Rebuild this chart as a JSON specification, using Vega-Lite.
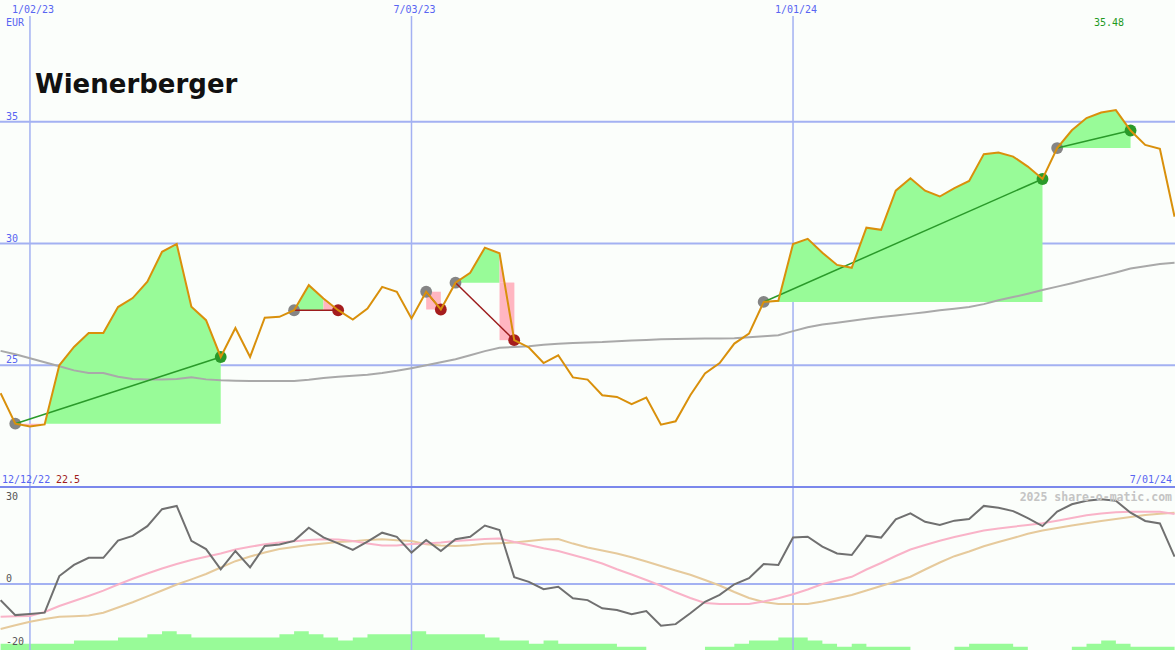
{
  "$schema": "https://vega.github.io/schema/vega-lite/v6.json",
  "background": "#fbfefb",
  "padding": 0,
  "autosize": {"type": "none"},
  "width": 1175,
  "height": 650,
  "config": {"view": {"stroke": null}},
  "datasets": {
    "vlines": [{"d": "2023/01/02"}, {"d": "2023/07/03"}, {"d": "2024/01/01"}],
    "ylev": [{"v": 25}, {"v": 30}, {"v": 35}],
    "olev": [{"v": 30, "t": "30"}, {"v": 0, "t": "0"}, {"v": -20, "t": "-20"}],
    "weeks": [
      {"d": "2022/12/19", "p": 23.85, "ma": 25.59, "o": -5.9, "s1": -11.98, "s2": -16.48, "v": 2},
      {"d": "2022/12/26", "p": 22.60, "ma": 25.45, "o": -11.4, "s1": -11.83, "s2": -15.13, "v": 2},
      {"d": "2023/01/02", "p": 22.49, "ma": 25.29, "o": -11.0, "s1": -11.72, "s2": -13.81, "v": 2},
      {"d": "2023/01/09", "p": 22.57, "ma": 25.12, "o": -10.5, "s1": -10.26, "s2": -12.82, "v": 2},
      {"d": "2023/01/16", "p": 25.00, "ma": 24.96, "o": 2.9, "s1": -8.06, "s2": -11.98, "v": 2},
      {"d": "2023/01/23", "p": 25.75, "ma": 24.79, "o": 7.0, "s1": -6.23, "s2": -11.79, "v": 3},
      {"d": "2023/01/30", "p": 26.32, "ma": 24.68, "o": 9.6, "s1": -4.40, "s2": -11.58, "v": 3},
      {"d": "2023/02/06", "p": 26.32, "ma": 24.68, "o": 9.6, "s1": -2.45, "s2": -10.51, "v": 3},
      {"d": "2023/02/13", "p": 27.39, "ma": 24.53, "o": 15.9, "s1": -0.18, "s2": -8.61, "v": 4},
      {"d": "2023/02/20", "p": 27.76, "ma": 24.44, "o": 17.6, "s1": 1.90, "s2": -6.67, "v": 4},
      {"d": "2023/02/27", "p": 28.43, "ma": 24.41, "o": 21.2, "s1": 3.85, "s2": -4.51, "v": 5},
      {"d": "2023/03/06", "p": 29.66, "ma": 24.41, "o": 27.4, "s1": 5.68, "s2": -2.38, "v": 6},
      {"d": "2023/03/13", "p": 29.98, "ma": 24.44, "o": 28.6, "s1": 7.33, "s2": -0.18, "v": 5},
      {"d": "2023/03/20", "p": 27.40, "ma": 24.51, "o": 15.8, "s1": 8.79, "s2": 1.68, "v": 4},
      {"d": "2023/03/27", "p": 26.85, "ma": 24.42, "o": 12.8, "s1": 9.96, "s2": 3.66, "v": 4},
      {"d": "2023/04/03", "p": 25.34, "ma": 24.38, "o": 5.4, "s1": 11.17, "s2": 6.04, "v": 4},
      {"d": "2023/04/10", "p": 26.53, "ma": 24.36, "o": 12.1, "s1": 12.64, "s2": 8.35, "v": 4},
      {"d": "2023/04/17", "p": 25.34, "ma": 24.35, "o": 6.1, "s1": 13.63, "s2": 10.07, "v": 4},
      {"d": "2023/04/24", "p": 26.95, "ma": 24.35, "o": 13.9, "s1": 14.54, "s2": 11.54, "v": 4},
      {"d": "2023/05/01", "p": 26.99, "ma": 24.35, "o": 14.5, "s1": 15.20, "s2": 12.82, "v": 5},
      {"d": "2023/05/08", "p": 27.26, "ma": 24.35, "o": 15.8, "s1": 15.68, "s2": 13.55, "v": 6},
      {"d": "2023/05/15", "p": 28.29, "ma": 24.40, "o": 20.6, "s1": 16.12, "s2": 14.29, "v": 5},
      {"d": "2023/05/22", "p": 27.74, "ma": 24.48, "o": 17.1, "s1": 16.41, "s2": 14.87, "v": 4},
      {"d": "2023/05/29", "p": 27.26, "ma": 24.53, "o": 14.9, "s1": 16.30, "s2": 15.38, "v": 3},
      {"d": "2023/06/05", "p": 26.88, "ma": 24.57, "o": 12.5, "s1": 15.75, "s2": 15.68, "v": 4},
      {"d": "2023/06/12", "p": 27.33, "ma": 24.61, "o": 15.5, "s1": 14.84, "s2": 16.12, "v": 5},
      {"d": "2023/06/19", "p": 28.22, "ma": 24.68, "o": 18.8, "s1": 14.10, "s2": 16.41, "v": 5},
      {"d": "2023/06/26", "p": 28.02, "ma": 24.77, "o": 17.3, "s1": 14.10, "s2": 16.01, "v": 5},
      {"d": "2023/07/03", "p": 26.92, "ma": 24.88, "o": 11.5, "s1": 14.65, "s2": 15.75, "v": 6},
      {"d": "2023/07/10", "p": 28.02, "ma": 25.00, "o": 16.1, "s1": 14.87, "s2": 14.54, "v": 5},
      {"d": "2023/07/17", "p": 27.29, "ma": 25.12, "o": 12.1, "s1": 15.20, "s2": 14.10, "v": 5},
      {"d": "2023/07/24", "p": 28.39, "ma": 25.25, "o": 16.4, "s1": 15.75, "s2": 13.92, "v": 5},
      {"d": "2023/07/31", "p": 28.80, "ma": 25.41, "o": 17.3, "s1": 16.12, "s2": 14.21, "v": 5},
      {"d": "2023/08/07", "p": 29.83, "ma": 25.58, "o": 21.4, "s1": 16.48, "s2": 14.73, "v": 4},
      {"d": "2023/08/14", "p": 29.60, "ma": 25.72, "o": 19.8, "s1": 16.67, "s2": 14.95, "v": 3},
      {"d": "2023/08/21", "p": 26.03, "ma": 25.75, "o": 2.5, "s1": 15.38, "s2": 15.16, "v": 3},
      {"d": "2023/08/28", "p": 25.73, "ma": 25.78, "o": 0.8, "s1": 14.29, "s2": 15.75, "v": 2},
      {"d": "2023/09/04", "p": 25.09, "ma": 25.84, "o": -1.9, "s1": 13.11, "s2": 16.30, "v": 3},
      {"d": "2023/09/11", "p": 25.41, "ma": 25.88, "o": -1.0, "s1": 12.09, "s2": 16.48, "v": 2},
      {"d": "2023/09/18", "p": 24.50, "ma": 25.91, "o": -5.2, "s1": 10.62, "s2": 14.80, "v": 2},
      {"d": "2023/09/25", "p": 24.41, "ma": 25.93, "o": -5.9, "s1": 9.16, "s2": 13.37, "v": 2},
      {"d": "2023/10/02", "p": 23.77, "ma": 25.95, "o": -8.9, "s1": 7.51, "s2": 12.27, "v": 2},
      {"d": "2023/10/09", "p": 23.70, "ma": 25.99, "o": -9.5, "s1": 5.42, "s2": 11.17, "v": 1},
      {"d": "2023/10/16", "p": 23.40, "ma": 26.02, "o": -11.1, "s1": 3.48, "s2": 9.78, "v": 1},
      {"d": "2023/10/23", "p": 23.67, "ma": 26.04, "o": -9.9, "s1": 1.47, "s2": 8.24, "v": 0},
      {"d": "2023/10/30", "p": 22.56, "ma": 26.07, "o": -15.3, "s1": -0.66, "s2": 6.59, "v": 0},
      {"d": "2023/11/06", "p": 22.70, "ma": 26.08, "o": -14.7, "s1": -3.04, "s2": 4.95, "v": 0},
      {"d": "2023/11/13", "p": 23.77, "ma": 26.09, "o": -10.7, "s1": -5.13, "s2": 3.37, "v": 0},
      {"d": "2023/11/20", "p": 24.66, "ma": 26.10, "o": -6.5, "s1": -6.96, "s2": 1.47, "v": 1},
      {"d": "2023/11/27", "p": 25.09, "ma": 26.10, "o": -4.0, "s1": -7.33, "s2": -0.55, "v": 1},
      {"d": "2023/12/04", "p": 25.89, "ma": 26.11, "o": -0.1, "s1": -7.33, "s2": -2.93, "v": 2},
      {"d": "2023/12/11", "p": 26.30, "ma": 26.15, "o": 2.1, "s1": -7.33, "s2": -5.13, "v": 3},
      {"d": "2023/12/18", "p": 27.60, "ma": 26.19, "o": 7.3, "s1": -6.41, "s2": -6.59, "v": 3},
      {"d": "2023/12/25", "p": 27.65, "ma": 26.23, "o": 7.0, "s1": -5.24, "s2": -7.33, "v": 4},
      {"d": "2024/01/01", "p": 29.98, "ma": 26.40, "o": 17.0, "s1": -3.74, "s2": -7.33, "v": 4},
      {"d": "2024/01/08", "p": 30.19, "ma": 26.56, "o": 17.3, "s1": -2.01, "s2": -7.33, "v": 3},
      {"d": "2024/01/15", "p": 29.62, "ma": 26.67, "o": 13.7, "s1": 0.0, "s2": -6.41, "v": 2},
      {"d": "2024/01/22", "p": 29.12, "ma": 26.75, "o": 11.2, "s1": 1.28, "s2": -5.24, "v": 1},
      {"d": "2024/01/29", "p": 29.00, "ma": 26.83, "o": 10.6, "s1": 2.64, "s2": -4.03, "v": 2},
      {"d": "2024/02/05", "p": 30.65, "ma": 26.91, "o": 17.7, "s1": 5.31, "s2": -2.38, "v": 1},
      {"d": "2024/02/12", "p": 30.56, "ma": 26.98, "o": 17.0, "s1": 7.69, "s2": -0.73, "v": 1},
      {"d": "2024/02/19", "p": 32.17, "ma": 27.04, "o": 23.7, "s1": 10.26, "s2": 0.92, "v": 1},
      {"d": "2024/02/26", "p": 32.68, "ma": 27.11, "o": 25.9, "s1": 12.64, "s2": 2.67, "v": 0},
      {"d": "2024/03/04", "p": 32.17, "ma": 27.18, "o": 22.8, "s1": 14.29, "s2": 5.31, "v": 0},
      {"d": "2024/03/11", "p": 31.93, "ma": 27.26, "o": 21.6, "s1": 15.82, "s2": 7.88, "v": 0},
      {"d": "2024/03/18", "p": 32.27, "ma": 27.32, "o": 23.2, "s1": 17.22, "s2": 10.18, "v": 1},
      {"d": "2024/03/25", "p": 32.57, "ma": 27.39, "o": 23.8, "s1": 18.42, "s2": 11.90, "v": 2},
      {"d": "2024/04/01", "p": 33.67, "ma": 27.51, "o": 28.6, "s1": 19.60, "s2": 13.81, "v": 2},
      {"d": "2024/04/08", "p": 33.74, "ma": 27.67, "o": 27.9, "s1": 20.33, "s2": 15.38, "v": 2},
      {"d": "2024/04/15", "p": 33.57, "ma": 27.80, "o": 26.7, "s1": 20.99, "s2": 16.85, "v": 1},
      {"d": "2024/04/22", "p": 33.16, "ma": 27.94, "o": 24.1, "s1": 21.61, "s2": 18.39, "v": 0},
      {"d": "2024/04/29", "p": 32.65, "ma": 28.09, "o": 21.2, "s1": 22.23, "s2": 19.60, "v": 0},
      {"d": "2024/05/06", "p": 33.92, "ma": 28.23, "o": 26.5, "s1": 23.19, "s2": 20.51, "v": 0},
      {"d": "2024/05/13", "p": 34.65, "ma": 28.37, "o": 29.2, "s1": 24.18, "s2": 21.39, "v": 1},
      {"d": "2024/05/20", "p": 35.15, "ma": 28.52, "o": 30.5, "s1": 25.16, "s2": 22.23, "v": 2},
      {"d": "2024/05/27", "p": 35.38, "ma": 28.66, "o": 31.0, "s1": 25.79, "s2": 23.08, "v": 3},
      {"d": "2024/06/03", "p": 35.48, "ma": 28.81, "o": 30.5, "s1": 26.26, "s2": 23.81, "v": 2},
      {"d": "2024/06/10", "p": 34.64, "ma": 28.97, "o": 26.1, "s1": 26.48, "s2": 24.54, "v": 1},
      {"d": "2024/06/17", "p": 34.05, "ma": 29.07, "o": 23.1, "s1": 26.48, "s2": 25.27, "v": 1},
      {"d": "2024/06/24", "p": 33.89, "ma": 29.16, "o": 22.2, "s1": 26.48, "s2": 25.71, "v": 1},
      {"d": "2024/07/01", "p": 31.10, "ma": 29.21, "o": 10.0, "s1": 25.64, "s2": 26.12, "v": 1}
    ],
    "fills": [
      {"seg": "t1p", "k": "p", "d": "2022/12/26", "hi": 22.60, "lo": 22.6},
      {"seg": "t1p", "k": "p", "d": "2023/01/02", "hi": 22.49, "lo": 22.6},
      {"seg": "t1p", "k": "p", "d": "2023/01/09", "hi": 22.57, "lo": 22.6},
      {"seg": "t1g", "k": "g", "d": "2023/01/09", "hi": 22.57, "lo": 22.6},
      {"seg": "t1g", "k": "g", "d": "2023/01/16", "hi": 25.00, "lo": 22.6},
      {"seg": "t1g", "k": "g", "d": "2023/01/23", "hi": 25.75, "lo": 22.6},
      {"seg": "t1g", "k": "g", "d": "2023/01/30", "hi": 26.32, "lo": 22.6},
      {"seg": "t1g", "k": "g", "d": "2023/02/06", "hi": 26.32, "lo": 22.6},
      {"seg": "t1g", "k": "g", "d": "2023/02/13", "hi": 27.39, "lo": 22.6},
      {"seg": "t1g", "k": "g", "d": "2023/02/20", "hi": 27.76, "lo": 22.6},
      {"seg": "t1g", "k": "g", "d": "2023/02/27", "hi": 28.43, "lo": 22.6},
      {"seg": "t1g", "k": "g", "d": "2023/03/06", "hi": 29.66, "lo": 22.6},
      {"seg": "t1g", "k": "g", "d": "2023/03/13", "hi": 29.98, "lo": 22.6},
      {"seg": "t1g", "k": "g", "d": "2023/03/20", "hi": 27.40, "lo": 22.6},
      {"seg": "t1g", "k": "g", "d": "2023/03/27", "hi": 26.85, "lo": 22.6},
      {"seg": "t1g", "k": "g", "d": "2023/04/03", "hi": 25.34, "lo": 22.6},
      {"seg": "t2g", "k": "g", "d": "2023/05/08", "hi": 27.26, "lo": 27.26},
      {"seg": "t2g", "k": "g", "d": "2023/05/15", "hi": 28.29, "lo": 27.26},
      {"seg": "t2g", "k": "g", "d": "2023/05/22", "hi": 27.74, "lo": 27.26},
      {"seg": "t2p", "k": "p", "d": "2023/05/22", "hi": 27.74, "lo": 27.26},
      {"seg": "t2p", "k": "p", "d": "2023/05/29", "hi": 27.26, "lo": 27.26},
      {"seg": "t3p", "k": "p", "d": "2023/07/10", "hi": 28.02, "lo": 27.29},
      {"seg": "t3p", "k": "p", "d": "2023/07/17", "hi": 28.02, "lo": 27.29},
      {"seg": "t4g", "k": "g", "d": "2023/07/24", "hi": 28.39, "lo": 28.39},
      {"seg": "t4g", "k": "g", "d": "2023/07/31", "hi": 28.80, "lo": 28.39},
      {"seg": "t4g", "k": "g", "d": "2023/08/07", "hi": 29.83, "lo": 28.39},
      {"seg": "t4g", "k": "g", "d": "2023/08/14", "hi": 29.60, "lo": 28.39},
      {"seg": "t4p", "k": "p", "d": "2023/08/14", "hi": 29.60, "lo": 28.39},
      {"seg": "t4p", "k": "p", "d": "2023/08/21", "hi": 26.03, "lo": 28.39},
      {"seg": "t4r", "k": "p", "d": "2023/08/14", "hi": 28.39, "lo": 26.03},
      {"seg": "t4r", "k": "p", "d": "2023/08/21", "hi": 28.39, "lo": 26.03},
      {"seg": "t5g", "k": "g", "d": "2023/12/18", "hi": 27.60, "lo": 27.60},
      {"seg": "t5g", "k": "g", "d": "2023/12/25", "hi": 27.65, "lo": 27.60},
      {"seg": "t5g", "k": "g", "d": "2024/01/01", "hi": 29.98, "lo": 27.60},
      {"seg": "t5g", "k": "g", "d": "2024/01/08", "hi": 30.19, "lo": 27.60},
      {"seg": "t5g", "k": "g", "d": "2024/01/15", "hi": 29.62, "lo": 27.60},
      {"seg": "t5g", "k": "g", "d": "2024/01/22", "hi": 29.12, "lo": 27.60},
      {"seg": "t5g", "k": "g", "d": "2024/01/29", "hi": 29.00, "lo": 27.60},
      {"seg": "t5g", "k": "g", "d": "2024/02/05", "hi": 30.65, "lo": 27.60},
      {"seg": "t5g", "k": "g", "d": "2024/02/12", "hi": 30.56, "lo": 27.60},
      {"seg": "t5g", "k": "g", "d": "2024/02/19", "hi": 32.17, "lo": 27.60},
      {"seg": "t5g", "k": "g", "d": "2024/02/26", "hi": 32.68, "lo": 27.60},
      {"seg": "t5g", "k": "g", "d": "2024/03/04", "hi": 32.17, "lo": 27.60},
      {"seg": "t5g", "k": "g", "d": "2024/03/11", "hi": 31.93, "lo": 27.60},
      {"seg": "t5g", "k": "g", "d": "2024/03/18", "hi": 32.27, "lo": 27.60},
      {"seg": "t5g", "k": "g", "d": "2024/03/25", "hi": 32.57, "lo": 27.60},
      {"seg": "t5g", "k": "g", "d": "2024/04/01", "hi": 33.67, "lo": 27.60},
      {"seg": "t5g", "k": "g", "d": "2024/04/08", "hi": 33.74, "lo": 27.60},
      {"seg": "t5g", "k": "g", "d": "2024/04/15", "hi": 33.57, "lo": 27.60},
      {"seg": "t5g", "k": "g", "d": "2024/04/22", "hi": 33.16, "lo": 27.60},
      {"seg": "t5g", "k": "g", "d": "2024/04/29", "hi": 32.65, "lo": 27.60},
      {"seg": "t6g", "k": "g", "d": "2024/05/06", "hi": 33.92, "lo": 33.92},
      {"seg": "t6g", "k": "g", "d": "2024/05/13", "hi": 34.65, "lo": 33.92},
      {"seg": "t6g", "k": "g", "d": "2024/05/20", "hi": 35.15, "lo": 33.92},
      {"seg": "t6g", "k": "g", "d": "2024/05/27", "hi": 35.38, "lo": 33.92},
      {"seg": "t6g", "k": "g", "d": "2024/06/03", "hi": 35.48, "lo": 33.92},
      {"seg": "t6g", "k": "g", "d": "2024/06/10", "hi": 34.64, "lo": 33.92}
    ],
    "trades": [
      {"t": "t1", "k": "win", "dot": "buy", "d": "2022/12/26", "p": 22.60},
      {"t": "t1", "k": "win", "dot": "win", "d": "2023/04/03", "p": 25.34},
      {"t": "t2", "k": "loss", "dot": "buy", "d": "2023/05/08", "p": 27.26},
      {"t": "t2", "k": "loss", "dot": "loss", "d": "2023/05/29", "p": 27.26},
      {"t": "t3", "k": "loss", "dot": "buy", "d": "2023/07/10", "p": 28.02},
      {"t": "t3", "k": "loss", "dot": "loss", "d": "2023/07/17", "p": 27.29},
      {"t": "t4", "k": "loss", "dot": "buy", "d": "2023/07/24", "p": 28.39},
      {"t": "t4", "k": "loss", "dot": "loss", "d": "2023/08/21", "p": 26.03},
      {"t": "t5", "k": "win", "dot": "buy", "d": "2023/12/18", "p": 27.60},
      {"t": "t5", "k": "win", "dot": "win", "d": "2024/04/29", "p": 32.65},
      {"t": "t6", "k": "win", "dot": "buy", "d": "2024/05/06", "p": 33.92},
      {"t": "t6", "k": "win", "dot": "win", "d": "2024/06/10", "p": 34.64}
    ]
  },
  "resolve": {"scale": {"y": "independent"}},
  "layer": [
    {
      "resolve": {"scale": {"color": "independent"}},
      "layer": [
        {
          "data": {"name": "ylev"},
          "mark": {"type": "rule", "color": "#a3b1f2", "strokeWidth": 2},
          "encoding": {
            "y": {"field": "v", "type": "quantitative", "axis": null, "scale": {"domain": [20, 40], "range": [487, 0], "nice": false, "zero": false}}
          }
        },
        {
          "data": {"name": "vlines"},
          "mark": {"type": "rule", "color": "#a3b1f2", "strokeWidth": 1.5},
          "encoding": {
            "x": {"field": "d", "type": "temporal", "axis": null, "scale": {"domain": [{"year": 2022, "month": 12, "date": 18, "hours": 17}, {"year": 2024, "month": 7, "date": 1, "hours": 5}], "nice": false}},
            "y": {"datum": 20, "type": "quantitative", "axis": null},
            "y2": {"datum": 39.34}
          }
        },
        {
          "data": {"name": "fills"},
          "mark": {"type": "area", "opacity": 1},
          "encoding": {
            "x": {"field": "d", "type": "temporal", "axis": null},
            "y": {"field": "hi", "type": "quantitative", "axis": null},
            "y2": {"field": "lo"},
            "color": {"field": "k", "type": "nominal", "legend": null, "scale": {"domain": ["g", "p"], "range": ["#98fb98", "#ffb6c1"]}},
            "detail": {"field": "seg"}
          }
        },
        {
          "data": {"name": "weeks"},
          "mark": {"type": "line", "color": "#a9a9a9", "strokeWidth": 2},
          "encoding": {
            "x": {"field": "d", "type": "temporal", "axis": null},
            "y": {"field": "ma", "type": "quantitative", "axis": null}
          }
        },
        {
          "data": {"name": "trades"},
          "mark": {"type": "circle", "size": 140, "opacity": 1},
          "encoding": {
            "x": {"field": "d", "type": "temporal", "axis": null},
            "y": {"field": "p", "type": "quantitative", "axis": null},
            "color": {"field": "dot", "type": "nominal", "legend": null, "scale": {"domain": ["buy", "win", "loss"], "range": ["#858585", "#2a9a2a", "#a51d1d"]}}
          }
        },
        {
          "data": {"name": "trades"},
          "mark": {"type": "line", "strokeWidth": 1.5},
          "encoding": {
            "x": {"field": "d", "type": "temporal", "axis": null},
            "y": {"field": "p", "type": "quantitative", "axis": null},
            "detail": {"field": "t"},
            "color": {"field": "k", "type": "nominal", "legend": null, "scale": {"domain": ["win", "loss"], "range": ["#2a9a2a", "#9c1c1c"]}}
          }
        },
        {
          "data": {"name": "weeks"},
          "mark": {"type": "line", "color": "#d9900b", "strokeWidth": 2},
          "encoding": {
            "x": {"field": "d", "type": "temporal", "axis": null},
            "y": {"field": "p", "type": "quantitative", "axis": null}
          }
        },
        {
          "data": {"name": "ylev"},
          "mark": {"type": "text", "align": "left", "baseline": "bottom", "dx": 6, "dy": 0, "font": "DejaVu Sans Mono", "fontSize": 10, "color": "#5865f2"},
          "encoding": {
            "x": {"datum": {"year": 2022, "month": 12, "date": 18, "hours": 17}, "type": "temporal", "axis": null},
            "y": {"field": "v", "type": "quantitative", "axis": null},
            "text": {"field": "v", "type": "quantitative"}
          }
        },
        {
          "data": {"name": "vlines"},
          "mark": {"type": "text", "align": "center", "baseline": "bottom", "dx": 3, "dy": 15, "font": "DejaVu Sans Mono", "fontSize": 10, "color": "#5865f2"},
          "encoding": {
            "x": {"field": "d", "type": "temporal", "axis": null},
            "y": {"datum": 40, "type": "quantitative", "axis": null},
            "text": {"field": "d", "type": "temporal", "format": "%-m/%d/%y"}
          }
        },
        {
          "data": {"values": [{}]},
          "mark": {"type": "text", "text": "EUR", "align": "left", "baseline": "bottom", "dx": 6, "font": "DejaVu Sans Mono", "fontSize": 10, "color": "#5865f2"},
          "encoding": {
            "x": {"datum": {"year": 2022, "month": 12, "date": 18, "hours": 17}, "type": "temporal", "axis": null},
            "y": {"datum": 38.87, "type": "quantitative", "axis": null}
          }
        },
        {
          "data": {"values": [{}]},
          "mark": {"type": "text", "text": "35.48", "align": "center", "baseline": "bottom", "font": "DejaVu Sans Mono", "fontSize": 10, "color": "#1f9a1f"},
          "encoding": {
            "x": {"datum": {"year": 2024, "month": 5, "date": 30, "hours": 18}, "type": "temporal", "axis": null},
            "y": {"datum": 38.87, "type": "quantitative", "axis": null}
          }
        },
        {
          "data": {"values": [{}]},
          "mark": {"type": "text", "text": "Wienerberger", "align": "left", "baseline": "alphabetic", "font": "DejaVu Sans", "fontWeight": "bold", "fontSize": 26, "color": "#111111"},
          "encoding": {
            "x": {"datum": {"year": 2023, "month": 1, "date": 4, "hours": 10}, "type": "temporal", "axis": null},
            "y": {"datum": 36.17, "type": "quantitative", "axis": null}
          }
        },
        {
          "data": {"values": [{}]},
          "mark": {"type": "text", "text": "12/12/22", "align": "left", "baseline": "bottom", "dx": 2, "dy": -2, "font": "DejaVu Sans Mono", "fontSize": 10, "color": "#5865f2"},
          "encoding": {
            "x": {"datum": {"year": 2022, "month": 12, "date": 18, "hours": 17}, "type": "temporal", "axis": null},
            "y": {"datum": 20, "type": "quantitative", "axis": null}
          }
        },
        {
          "data": {"values": [{}]},
          "mark": {"type": "text", "text": "22.5", "align": "left", "baseline": "bottom", "dx": 56, "dy": -2, "font": "DejaVu Sans Mono", "fontSize": 10, "color": "#a01c1c"},
          "encoding": {
            "x": {"datum": {"year": 2022, "month": 12, "date": 18, "hours": 17}, "type": "temporal", "axis": null},
            "y": {"datum": 20, "type": "quantitative", "axis": null}
          }
        },
        {
          "data": {"values": [{}]},
          "mark": {"type": "text", "text": "7/01/24", "align": "right", "baseline": "bottom", "dx": -3, "dy": -2, "font": "DejaVu Sans Mono", "fontSize": 10, "color": "#5865f2"},
          "encoding": {
            "x": {"datum": {"year": 2024, "month": 7, "date": 1, "hours": 5}, "type": "temporal", "axis": null},
            "y": {"datum": 20, "type": "quantitative", "axis": null}
          }
        }
      ]
    },
    {
      "resolve": {"scale": {"y": "independent"}},
      "layer": [
        {
          "data": {"name": "weeks"},
          "mark": {"type": "area", "interpolate": "step-after", "color": "#98fb98", "opacity": 1},
          "encoding": {
            "x": {"field": "d", "type": "temporal", "axis": null},
            "y": {"field": "v", "type": "quantitative", "axis": null, "scale": {"domain": [0, 52], "range": [650, 487], "nice": false, "zero": false}}
          }
        },
        {
          "layer": [
            {
              "data": {"name": "vlines"},
              "mark": {"type": "rule", "color": "#a3b1f2", "strokeWidth": 1.5},
              "encoding": {
                "x": {"field": "d", "type": "temporal", "axis": null},
                "y": {"datum": -24.18, "type": "quantitative", "axis": null, "scale": {"domain": [-24.18, 35.53], "range": [650, 487], "nice": false, "zero": false}},
                "y2": {"datum": 35.53}
              }
            },
            {
              "data": {"values": [{}]},
              "mark": {"type": "rule", "color": "#a3b1f2", "strokeWidth": 2},
              "encoding": {
                "y": {"datum": 0, "type": "quantitative", "axis": null}
              }
            },
            {
              "data": {"values": [{}]},
              "mark": {"type": "rule", "color": "#7b88ec", "strokeWidth": 2},
              "encoding": {
                "y": {"datum": 35.53, "type": "quantitative", "axis": null}
              }
            },
            {
              "data": {"name": "weeks"},
              "mark": {"type": "line", "color": "#e6ca9c", "strokeWidth": 2},
              "encoding": {
                "x": {"field": "d", "type": "temporal", "axis": null},
                "y": {"field": "s2", "type": "quantitative", "axis": null}
              }
            },
            {
              "data": {"name": "weeks"},
              "mark": {"type": "line", "color": "#f9b3c8", "strokeWidth": 2},
              "encoding": {
                "x": {"field": "d", "type": "temporal", "axis": null},
                "y": {"field": "s1", "type": "quantitative", "axis": null}
              }
            },
            {
              "data": {"name": "weeks"},
              "mark": {"type": "line", "color": "#707070", "strokeWidth": 2},
              "encoding": {
                "x": {"field": "d", "type": "temporal", "axis": null},
                "y": {"field": "o", "type": "quantitative", "axis": null}
              }
            },
            {
              "data": {"name": "olev"},
              "transform": [{"filter": "datum.v >= 0"}],
              "mark": {"type": "text", "align": "left", "baseline": "bottom", "dx": 6, "dy": 0, "font": "DejaVu Sans Mono", "fontSize": 10, "color": "#555555"},
              "encoding": {
                "x": {"datum": {"year": 2022, "month": 12, "date": 18, "hours": 17}, "type": "temporal", "axis": null},
                "y": {"field": "v", "type": "quantitative", "axis": null},
                "text": {"field": "t", "type": "nominal"}
              }
            },
            {
              "data": {"name": "olev"},
              "transform": [{"filter": "datum.v < 0"}],
              "mark": {"type": "text", "align": "left", "baseline": "top", "dx": 6, "dy": -2, "font": "DejaVu Sans Mono", "fontSize": 10, "color": "#555555"},
              "encoding": {
                "x": {"datum": {"year": 2022, "month": 12, "date": 18, "hours": 17}, "type": "temporal", "axis": null},
                "y": {"field": "v", "type": "quantitative", "axis": null},
                "text": {"field": "t", "type": "nominal"}
              }
            },
            {
              "data": {"values": [{}]},
              "mark": {"type": "text", "text": "2025 share-o-matic.com", "align": "right", "baseline": "bottom", "dx": -3, "font": "DejaVu Sans Mono", "fontWeight": "bold", "fontSize": 11.5, "color": "#c4c4c4"},
              "encoding": {
                "x": {"datum": {"year": 2024, "month": 7, "date": 1, "hours": 5}, "type": "temporal", "axis": null},
                "y": {"datum": 29.52, "type": "quantitative", "axis": null}
              }
            }
          ]
        }
      ]
    }
  ]
}
